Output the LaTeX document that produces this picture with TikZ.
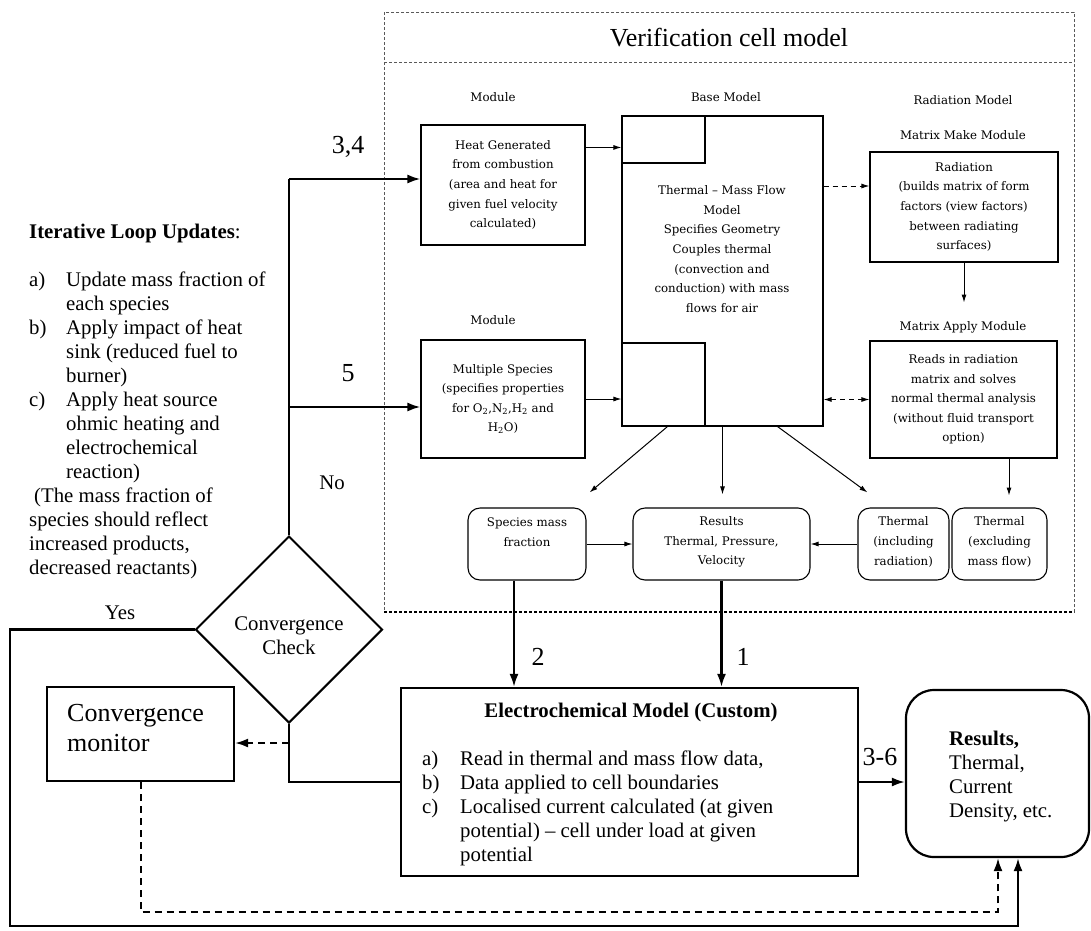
\documentclass[tikz,border=0pt]{standalone}
\usepackage{fontspec}
\setmainfont{Liberation Serif}
\newfontfamily\modfont{DejaVu Serif}
\usetikzlibrary{arrows.meta,shapes.geometric,calc}

\begin{document}
\begin{tikzpicture}[x=1pt,y=-1pt,
  frame/.style={draw=black!65, line width=0.7pt, dash pattern=on 3pt off 2pt},
  modbox/.style={draw, line width=1.1pt, inner sep=0pt, font=\modfont\fontsize{11.8}{19.6}\selectfont, align=center},
  modlabel/.style={font=\modfont\fontsize{11.8}{19.6}\selectfont, inner sep=0pt},
  modtext/.style={font=\modfont\fontsize{11.8}{19.6}\selectfont, align=center, inner sep=0pt},
  resbox/.style={draw, line width=1.1pt, rounded corners=12pt, inner sep=0pt},
  thinarrow/.style={line width=1pt, -{Latex[length=8pt,width=5pt]}},
  thindash/.style={line width=1pt, dash pattern=on 5pt off 4pt},
  bigbox/.style={draw, line width=2.2pt, inner sep=0pt},
  flow/.style={line width=2.2pt},
  flowarrow/.style={line width=2.2pt, -{Latex[length=13pt,width=9pt]}},
  flowdash/.style={line width=2pt, dash pattern=on 7pt off 5pt},
  bigtext/.style={font=\fontsize{20.8}{24}\selectfont, inner sep=0pt},
  numtext/.style={font=\fontsize{26}{30}\selectfont, inner sep=0pt}
]
\useasboundingbox (0,0) rectangle (1091,930);

% verification cell model frame
\draw[frame] (384,12) rectangle (1074,612);
\draw[frame] (384,62) -- (1074,62);
\draw[line width=1.1pt, dash pattern=on 3pt off 2pt] (384,612) -- (1074,612);
\node[font=\fontsize{26}{30}\selectfont, inner sep=0pt] (vtitle) at (729,38) {Verification cell model};

% column headings
\node[modlabel] (lmod1) at (493,97) {Module};
\node[modlabel] (lbase) at (726,97) {Base Model};
\node[modlabel] (lrad) at (963,100) {Radiation Model};
\node[modlabel] (lmake) at (963,135) {Matrix Make Module};
\node[modlabel] (lmod2) at (493,320) {Module};
\node[modlabel] (lapply) at (963,327) {Matrix Apply Module};

% modules
\node[modbox, minimum width=164pt, minimum height=120pt] (heat) at (503,185)
  {Heat Generated\\from combustion\\(area and heat for\\given fuel velocity\\calculated)};
\node[modbox, minimum width=164pt, minimum height=118pt] (spec) at (503,399)
  {Multiple Species\\(specifies properties\\for O\textsubscript{2},N\textsubscript{2},H\textsubscript{2} and\\H\textsubscript{2}O)};

% base model
\node[modbox, minimum width=201pt, minimum height=310pt] (base) at (722.5,271) {};
\node[modbox, minimum width=83pt, minimum height=47pt] (basetop) at (663.5,139.5) {};
\node[modbox, minimum width=83pt, minimum height=83pt] (basebot) at (663.5,384.5) {};
\node[modtext] (basetext) at (722,249)
  {Thermal – Mass Flow\\Model\\Specifies Geometry\\Couples thermal\\(convection and\\conduction) with mass\\flows for air};

% radiation model
\node[modbox, minimum width=188pt, minimum height=110pt] (rad) at (964,207)
  {Radiation\\(builds matrix of form\\factors (view factors)\\between radiating\\surfaces)};
\node[modbox, minimum width=187pt, minimum height=117pt] (apply) at (963.5,399.5)
  {Reads in radiation\\matrix and solves\\normal thermal analysis\\(without fluid transport\\option)};

% results inside the cell model
\node[resbox, minimum width=118pt, minimum height=72pt] (spm) at (527,544) {};
\node[resbox, minimum width=177pt, minimum height=72pt] (resi) at (721.5,544) {};
\node[resbox, minimum width=91pt, minimum height=72pt] (thi) at (903.5,544) {};
\node[resbox, minimum width=95pt, minimum height=72pt] (the) at (999.5,544) {};
\node[modtext] (spmt) at (527,532) {Species mass\\fraction};
\node[modtext] (resit) at (721.5,542) {Results\\Thermal, Pressure,\\Velocity};
\node[modtext] (thit) at (903.5,542) {Thermal\\(including\\radiation)};
\node[modtext] (thet) at (999.5,542) {Thermal\\(excluding\\mass flow)};

% inner connectors
\draw[thinarrow] ([yshift=-23pt]heat.north east) -- ([yshift=-23pt]heat.north east -| basetop.west);
\draw[thinarrow] (spec.east) -- (spec.east -| basebot.west);
\path ([yshift=21pt]rad.west) coordinate (radin);
\draw[thindash, -{Latex[length=8pt,width=5pt]}] (radin -| base.east) -- (radin);
\draw[thindash, {Latex[length=8pt,width=5pt]}-{Latex[length=8pt,width=5pt]}] (apply.west -| base.east) -- (apply.west);
\draw[thinarrow] (rad.south) -- ([yshift=-40pt]rad.south);
\draw[thinarrow] ($(base.south west)+(46,0)$) -- ($(spm.north east)+(3,-15)$);
\draw[thinarrow] (base.south) -- ($(base.south |- resi.north)+(0,-13)$);
\draw[thinarrow] ($(base.south east)+(-46,0)$) -- ($(thi.north west)+(10,-15)$);
\draw[thinarrow] ($(apply.south)+(45.5,0)$) -- ($(apply.south)+(45.5,37)$);
\draw[thinarrow] (spm.east) -- (resi.west);
\draw[thinarrow] (thi.west) -- (resi.east);

% iterative loop notes
\node[font=\fontsize{20.8}{24}\selectfont, inner sep=0pt, anchor=base west] (notes) at (29,238)
  {\begin{tabular}[t]{@{}p{37pt}@{}l@{}}
   \multicolumn{2}{@{}l@{}}{\textbf{Iterative Loop Updates}:}\\
   \\
   a) & Update mass fraction of\\
      & each species\\
   b) & Apply impact of heat\\
      & sink (reduced fuel to\\
      & burner)\\
   c) & Apply heat source\\
      & ohmic heating and\\
      & electrochemical\\
      & reaction)\\
   \multicolumn{2}{@{}l@{}}{\hspace{5pt}(The mass fraction of}\\
   \multicolumn{2}{@{}l@{}}{species should reflect}\\
   \multicolumn{2}{@{}l@{}}{increased products,}\\
   \multicolumn{2}{@{}l@{}}{decreased reactants)}
   \end{tabular}};

% convergence check and monitor
\node[draw, diamond, aspect=1, line width=2pt, minimum width=187pt, minimum height=187pt, inner sep=0pt] (check) at (289,629.5) {};
\node[bigtext, align=center] (checkt) at (289,636) {Convergence\\Check};
\node[bigbox, minimum width=187pt, minimum height=94pt] (mon) at (140.5,734) {};
\node[font=\fontsize{26}{30}\selectfont, inner sep=0pt, align=left, anchor=west] (mont) at (67,728) {Convergence\\monitor};

% electrochemical model
\node[bigbox, minimum width=457pt, minimum height=188pt] (elec) at (629.5,782) {};
\node[bigtext, font=\bfseries\fontsize{20.8}{24}\selectfont, anchor=base] (elect) at (631,717) {Electrochemical Model (Custom)};
\node[bigtext, anchor=base west] (elecl) at (422,765)
  {\begin{tabular}[t]{@{}p{38pt}@{}l@{}}
   a) & Read in thermal and mass flow data,\\
   b) & Data applied to cell boundaries\\
   c) & Localised current calculated (at given\\
      & potential) – cell under load at given\\
      & potential
   \end{tabular}};

% final results
\node[draw, line width=2.2pt, rounded corners=28pt, minimum width=183pt, minimum height=167pt, inner sep=0pt] (res) at (997.5,773.5) {};
\node[bigtext, anchor=base west] (rest) at (949,745)
  {\begin{tabular}[t]{@{}l@{}}
   \textbf{Results,}\\ Thermal,\\ Current\\ Density, etc.
   \end{tabular}};

% loop connectors
\coordinate (j34) at (289,179);
\coordinate (j5) at (289,407);
\draw[flow] (check.north) -- (j34);
\draw[flowarrow] (j34) -- (j34 -| heat.west);
\draw[flowarrow] (j5) -- (j5 -| spec.west);
\node[numtext] (n34) at (348,147) {3,4};
\node[numtext] (n5) at (348,373) {5};
\node[bigtext] (no) at (332,483) {No};

\coordinate (yl) at (10,629.5);
\coordinate (yb) at (10,926);
\draw[flowarrow] (check.west) -- (yl) -- (yb) -- ($(yb -| res.south)+(20.5,0)$) -- ($(res.south)+(20.5,0)$);
\node[bigtext] (yes) at (120,613) {Yes};

\draw[flow] (check.south) -- (check.south |- elec.west) -- (elec.west);
\coordinate (jm) at (289,743);
\draw[flowdash, -{Latex[length=13pt,width=9pt]}] (jm) -- (jm -| mon.east);

\coordinate (dl) at (140.5,912);
\draw[flowdash, -{Latex[length=13pt,width=9pt]}] (mon.south) -- (dl) -- ($(dl -| res.south)+(0.5,0)$) -- ($(res.south)+(0.5,0)$);

\path ($(spm.south)+(-13,0)$) coordinate (s2);
\draw[flowarrow] (s2) -- (s2 |- elec.north);
\draw[flowarrow] (resi.south) -- (resi.south |- elec.north);
\node[numtext] (n2) at (538,657) {2};
\node[numtext] (n1) at (743,657) {1};

\draw[flowarrow] (elec.east) -- (elec.east -| res.west);
\node[numtext] (n36) at (880,757) {3-6};

\end{tikzpicture}
\end{document}
